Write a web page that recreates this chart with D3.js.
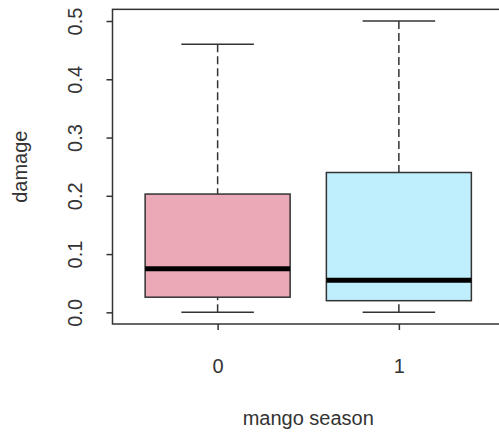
<!DOCTYPE html>
<html>
<head>
<meta charset="utf-8">
<script src="https://cdn.jsdelivr.net/npm/d3@7"></script>
<style>
  html, body { margin: 0; padding: 0; background: #fff; }
  svg { display: block; }
  text { font-family: "Liberation Sans", Arial, sans-serif; fill: #333; }
</style>
</head>
<body>
<svg id="chart" width="499" height="435"></svg>
<script>
// Group labels and five-number summaries of damage per mango season
const groups = ["0", "1"];
const lowerWhisker = [0.0, 0.0];
const q1 = [0.026, 0.02];
const median = [0.075, 0.055];
const q3 = [0.203, 0.24];
const upperWhisker = [0.46, 0.5];
const fills = ["#EBA8B6", "#BFEEFC"];
const yTicks = [0.0, 0.1, 0.2, 0.3, 0.4, 0.5];
const xTitle = "mango season";
const yTitle = "damage";

const svg = d3.select("#chart");
const ink = "#333";

// Plot region (right edge runs past the window, as in a base-R device)
const plotLeft = 112.5, plotRight = 504, plotTop = 9.35, plotBottom = 324;

// Positions 1..n with 0.5 padding, then 4% extension on both axes
const n = groups.length;
const xr = [0.5, n + 0.5];
const xpad = (xr[1] - xr[0]) * 0.04;
const x = d3.scaleLinear().domain([xr[0] - xpad, xr[1] + xpad]).range([plotLeft, plotRight]);
const yr = [0, 0.5];
const ypad = (yr[1] - yr[0]) * 0.04;
const y = d3.scaleLinear().domain([yr[0] - ypad, yr[1] + ypad]).range([plotBottom, plotTop]);

const boxW = 0.8, capW = 0.4;

groups.forEach((g, i) => {
  const cx = x(i + 1);
  const gEl = svg.append("g");
  // dashed whiskers, drawn from the caps toward the box
  gEl.append("line")
    .attr("x1", cx).attr("x2", cx)
    .attr("y1", y(upperWhisker[i])).attr("y2", y(q3[i]))
    .attr("stroke", ink).attr("stroke-width", 1.5).attr("stroke-dasharray", "8,4");
  gEl.append("line")
    .attr("x1", cx).attr("x2", cx)
    .attr("y1", y(lowerWhisker[i])).attr("y2", y(q1[i]))
    .attr("stroke", ink).attr("stroke-width", 1.5).attr("stroke-dasharray", "8,4");
  // whisker caps
  [upperWhisker[i], lowerWhisker[i]].forEach(v => {
    gEl.append("line")
      .attr("x1", x(i + 1 - capW / 2)).attr("x2", x(i + 1 + capW / 2))
      .attr("y1", y(v)).attr("y2", y(v))
      .attr("stroke", ink).attr("stroke-width", 1.5);
  });
  // box
  gEl.append("rect")
    .attr("x", x(i + 1 - boxW / 2))
    .attr("y", y(q3[i]))
    .attr("width", x(i + 1 + boxW / 2) - x(i + 1 - boxW / 2))
    .attr("height", y(q1[i]) - y(q3[i]))
    .attr("fill", fills[i])
    .attr("stroke", ink).attr("stroke-width", 1.5);
  // median
  gEl.append("line")
    .attr("x1", x(i + 1 - boxW / 2)).attr("x2", x(i + 1 + boxW / 2))
    .attr("y1", y(median[i])).attr("y2", y(median[i]))
    .attr("stroke", "#000").attr("stroke-width", 5);
});

// Frame
svg.append("rect")
  .attr("x", plotLeft).attr("y", plotTop)
  .attr("width", plotRight - plotLeft).attr("height", plotBottom - plotTop)
  .attr("fill", "none").attr("stroke", ink).attr("stroke-width", 1.5);

// Y axis
const yAxis = svg.append("g").attr("transform", `translate(${plotLeft},0)`)
  .call(d3.axisLeft(y).tickValues(yTicks).tickSize(6).tickFormat(d3.format(".1f")));
yAxis.select(".domain").remove();
yAxis.selectAll(".tick line").attr("stroke", ink).attr("stroke-width", 1.5);
yAxis.selectAll(".tick text")
  .attr("x", 0).attr("y", 0).attr("dy", null)
  .attr("text-anchor", "middle")
  .attr("font-size", 20)
  .attr("transform", "translate(-30.5,0) rotate(-90)")
  .style("fill", ink);

// X axis
const xAxis = svg.append("g").attr("transform", `translate(0,${plotBottom})`)
  .call(d3.axisBottom(x).tickValues(groups.map((g, i) => i + 1)).tickSize(6)
    .tickFormat((d) => groups[d - 1]));
xAxis.select(".domain").remove();
xAxis.selectAll(".tick line").attr("stroke", ink).attr("stroke-width", 1.5);
xAxis.selectAll(".tick text")
  .attr("y", 49).attr("dy", null)
  .attr("font-size", 20)
  .style("fill", ink);

// Axis titles
svg.append("text")
  .attr("x", (plotLeft + plotRight) / 2).attr("y", 425)
  .attr("text-anchor", "middle").attr("font-size", 20)
  .text(xTitle);
svg.append("text")
  .attr("transform", `translate(26.5,${(plotTop + plotBottom) / 2}) rotate(-90)`)
  .attr("text-anchor", "middle").attr("font-size", 20)
  .text(yTitle);
</script>
</body>
</html>
